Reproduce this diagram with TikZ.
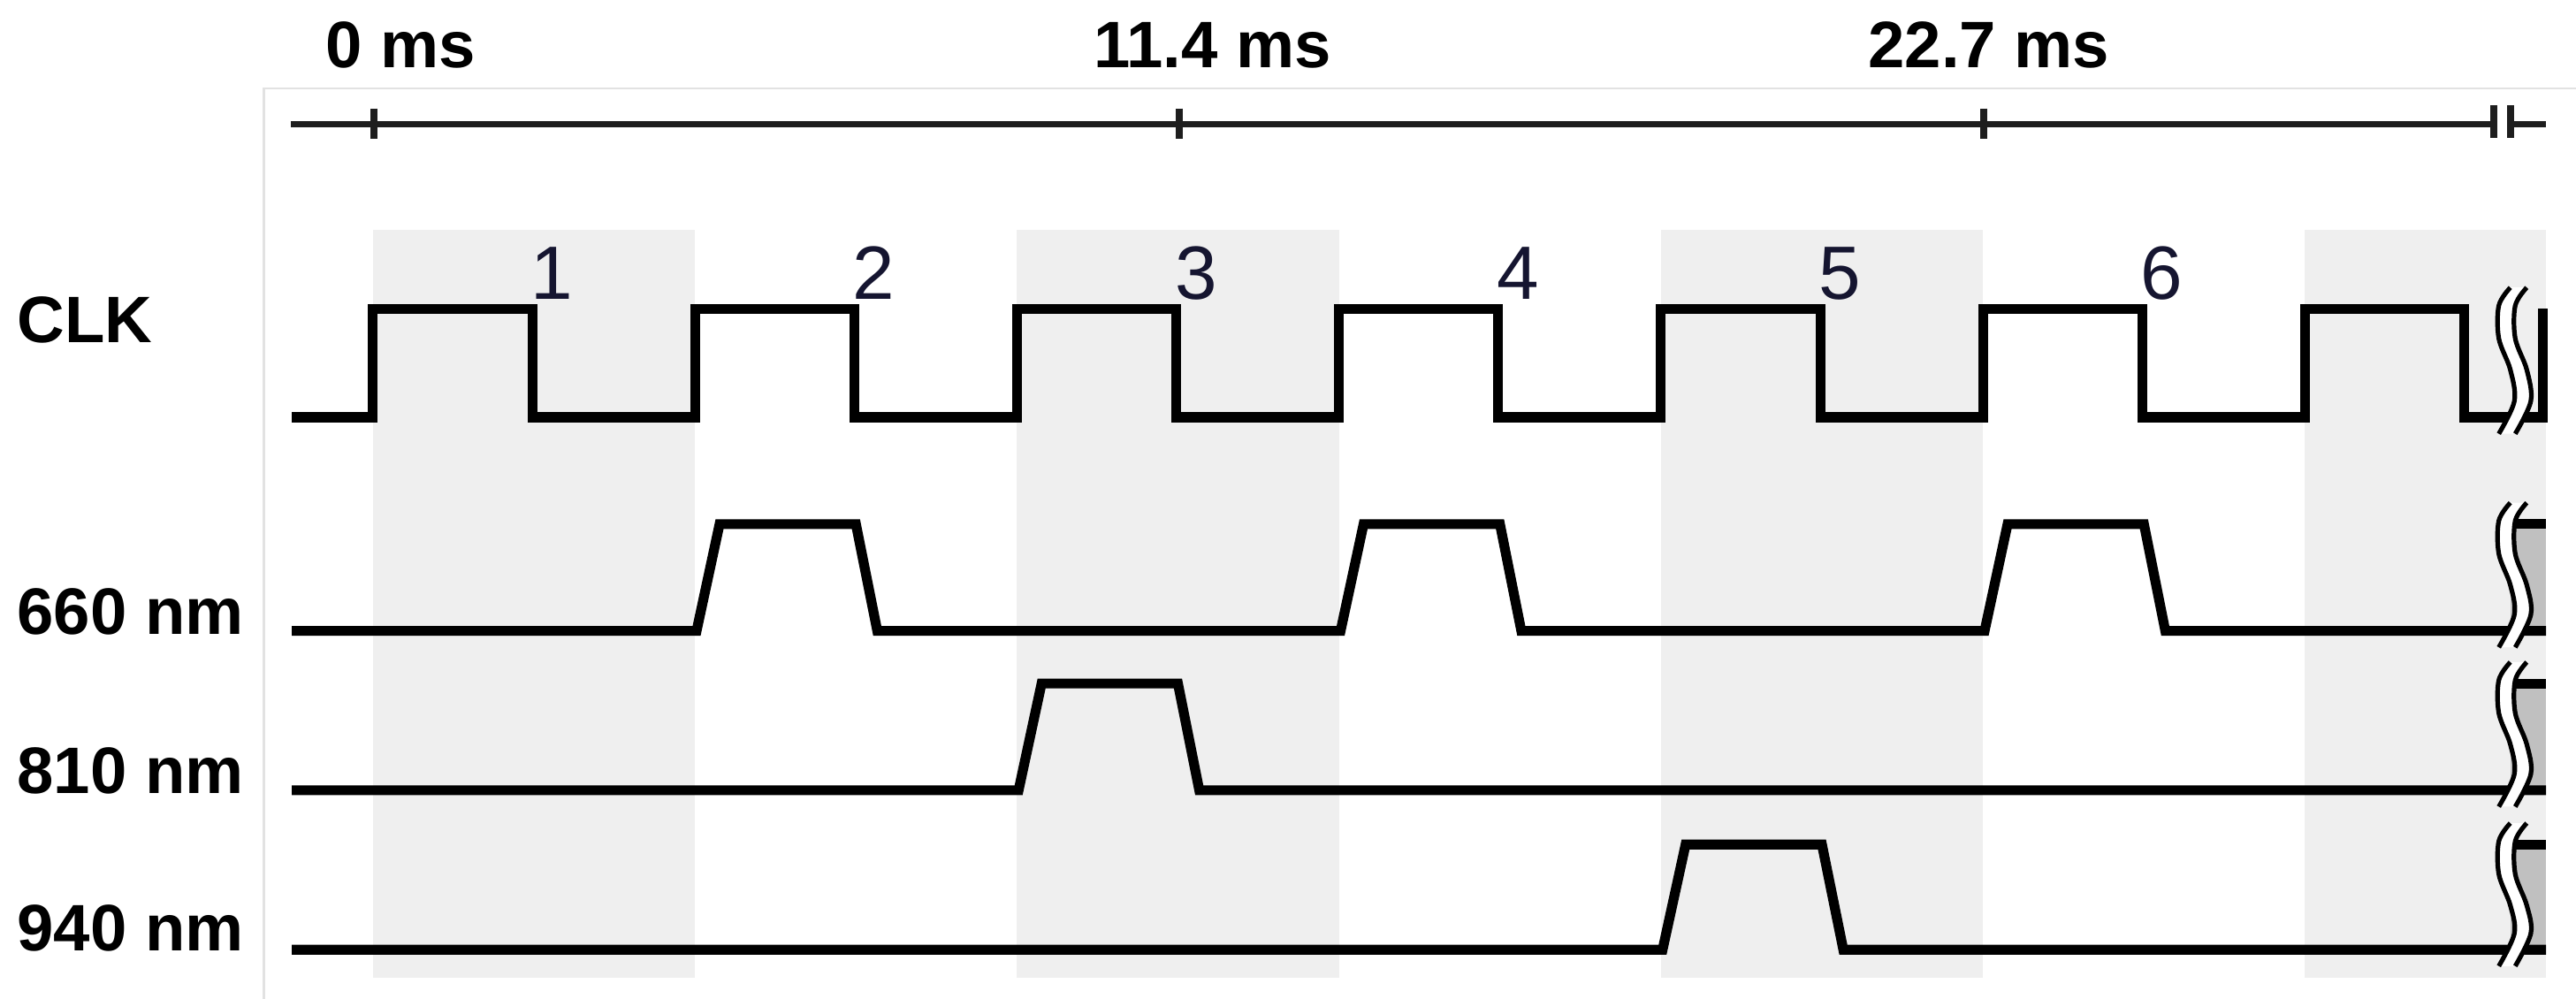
\documentclass[tikz,border=0pt]{standalone}
\usepackage{fontspec}
\setmainfont{Liberation Sans}
\definecolor{shadegray}{HTML}{EFEFEF}
\definecolor{panelgray}{HTML}{E2E2E2}
\definecolor{fillgray}{HTML}{C0C0C0}
\definecolor{axiscol}{HTML}{1E1E1E}
\definecolor{numcol}{HTML}{151530}
\tikzset{
  wave/.style={line width=6pt, black, line join=miter},
  shadecol/.style={fill=shadegray, draw=none},
  panelline/.style={line width=1.2pt, panelgray},
  axisline/.style={line width=4pt, axiscol},
  tickmark/.style={line width=4.2pt, axiscol},
  lbl/.style={font=\fontsize{40}{40}\selectfont\bfseries, anchor=base west, inner sep=0pt},
  numlbl/.style={font=\fontsize{46}{46}\selectfont, text=numcol, anchor=base, inner sep=0pt},
  squig/.style={line width=2.8pt, black},
}
\newcommand\brkmark[3]{%
  \fill[white] plot[smooth,tension=.55] coordinates {({#1+7},{#2-13}) ({#1},{#2-2}) ({#1},{#2+18}) ({#1+7},{#2+37}) ({#1+9.5},{#3-10}) ({#1},{#3+10})}
    -- plot[smooth,tension=.55] coordinates {({#1+10},{#3+10}) ({#1+19.5},{#3-10}) ({#1+17},{#2+37}) ({#1+10},{#2+18}) ({#1+10},{#2-2}) ({#1+17},{#2-13})} -- cycle;
  \draw[squig] plot[smooth,tension=.55] coordinates {({#1+7},{#2-13}) ({#1},{#2-2}) ({#1},{#2+18}) ({#1+7},{#2+37}) ({#1+9.5},{#3-10}) ({#1},{#3+10})};
  \draw[squig] plot[smooth,tension=.55] coordinates {({#1+17},{#2-13}) ({#1+10},{#2-2}) ({#1+10},{#2+18}) ({#1+17},{#2+37}) ({#1+19.5},{#3-10}) ({#1+10},{#3+10})};
}
\begin{document}
\begin{tikzpicture}[x=1pt,y=-1pt]
\useasboundingbox (0,0) rectangle (1568,608);
% shaded columns
\foreach \k in {0,2,4} \fill[shadecol] ({227+196*\k},140) rectangle ++(196,455);
\fill[shadecol] (1403,140) rectangle (1549.7,595);
% panel border
\draw[panelline] (160.6,608) -- (160.6,53.8) -- (1568,53.8);
% time axis
\draw[axisline] (177,75.5) -- (1518,75.5);
\draw[axisline] (1528,75.5) -- (1549.7,75.5);
\foreach \t in {227.6,717.6,1207.5} \draw[tickmark] (\t,66) -- (\t,84.5);
\draw[tickmark] (1518,64) -- (1518,84);
\draw[tickmark] (1528,64) -- (1528,84);
\node[lbl] (t0) at (198.3,41.4) {0 ms};
\node[lbl] (t1) at (665.5,41.4) {11.4 ms};
\node[lbl] (t2) at (1137,41.4) {22.7 ms};
% CLK
\draw[wave] (177.6,254) -- (227,254) -- (227,188) -- (324,188) -- (324,254)
  -- (423,254) -- (423,188) -- (520,188) -- (520,254)
  -- (619,254) -- (619,188) -- (716,188) -- (716,254)
  -- (815,254) -- (815,188) -- (912,188) -- (912,254)
  -- (1011,254) -- (1011,188) -- (1108,188) -- (1108,254)
  -- (1207,254) -- (1207,188) -- (1304,188) -- (1304,254)
  -- (1403,254) -- (1403,188) -- (1500,188) -- (1500,254)
  -- (1547.6,254) -- (1547.6,188);
% numbers
\foreach \f/\n in {324/1,520/2,716/3,912/4,1108/5,1304/6}
  \node[numlbl] (n\n) at ({\f+12},182) {\n};
% 660 nm
\fill[fillgray] (1528,319) rectangle (1549.7,384);
\draw[wave] (177.6,384) -- (424,384) -- (438,319) -- (521,319) -- (534,384)
  -- (816,384) -- (830,319) -- (913,319) -- (926,384)
  -- (1208,384) -- (1222,319) -- (1305,319) -- (1318,384) -- (1549.7,384);
\draw[wave] (1531,319) -- (1549.7,319);
% 810 nm
\fill[fillgray] (1528,416) rectangle (1549.7,481);
\draw[wave] (177.6,481) -- (620,481) -- (634,416) -- (717,416) -- (730,481) -- (1549.7,481);
\draw[wave] (1531,416) -- (1549.7,416);
% 940 nm
\fill[fillgray] (1528,514) rectangle (1549.7,578);
\draw[wave] (177.6,578) -- (1012,578) -- (1026,514) -- (1109,514) -- (1122,578) -- (1549.7,578);
\draw[wave] (1531,514) -- (1549.7,514);
% break marks
\brkmark{1521}{188}{254}
\brkmark{1521}{319}{384}
\brkmark{1521}{416}{481}
\brkmark{1521}{514}{578}
% labels
\node[lbl] (clk) at (10.5,208.5) {CLK};
\node[lbl] (w660) at (10.3,386) {660 nm};
\node[lbl] (w810) at (10.3,483) {810 nm};
\node[lbl] (w940) at (10.3,578.5) {940 nm};
\end{tikzpicture}
\end{document}
